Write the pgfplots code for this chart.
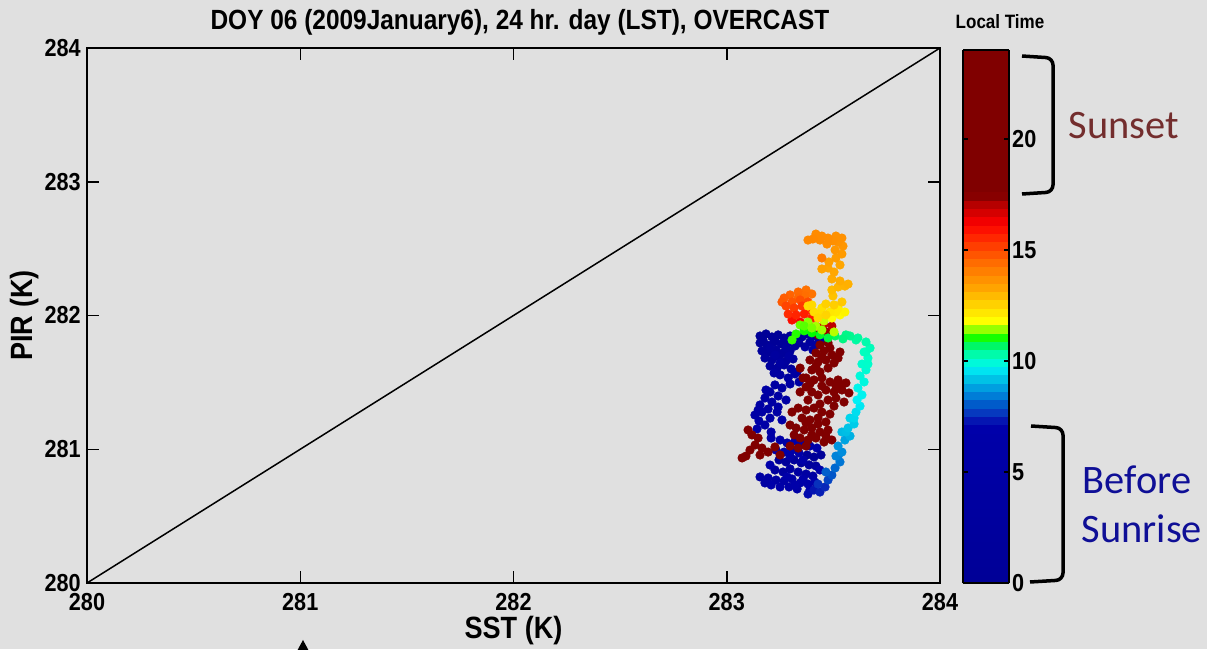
\documentclass[border=0pt]{standalone}
\usepackage{fontspec}
\setmainfont{Liberation Sans}[FakeStretch=0.88]
\newfontfamily\calibri{Carlito}
\usepackage{pgfplots}
\usepackage{pgfplotstable}
\pgfplotsset{compat=1.18}

\definecolor{bggray}{RGB}{224,224,224}
\definecolor{sunsetred}{RGB}{115,45,45}
\definecolor{sunriseblue}{RGB}{15,15,150}

% SST, PIR, local time (hours)
\pgfplotstableread{
x y t
283.156 281.847 0.1
283.184 281.862 0.2
283.212 281.840 0.3
283.241 281.855 0.4
283.269 281.832 0.5
283.297 281.847 0.6
283.325 281.825 0.7
283.353 281.840 0.8
283.156 281.795 0.9
283.189 281.780 1.0
283.222 281.802 1.1
283.255 281.787 1.2
283.288 281.795 1.3
283.320 281.772 1.4
283.165 281.735 1.5
283.198 281.727 1.6
283.231 281.742 1.7
283.264 281.720 1.8
283.297 281.735 1.9
283.179 281.682 2.0
283.212 281.667 2.1
283.245 281.690 2.2
283.278 281.660 2.3
283.311 281.675 2.4
283.203 281.622 2.5
283.236 281.607 2.6
283.269 281.630 2.7
283.302 281.600 2.8
283.330 281.578 2.9
283.372 281.862 3.0
283.399 281.847 3.1
283.428 281.832 3.2
283.390 281.802 3.3
283.418 281.780 3.4
283.446 281.810 3.5
283.367 281.765 3.6
283.404 281.742 3.7
283.250 281.556 3.8
283.288 281.533 3.9
283.320 281.563 4.0
283.339 281.503 4.1
283.226 281.481 4.2
283.259 281.458 4.3
283.203 281.428 4.4
283.241 281.398 4.5
283.179 281.383 4.6
283.212 281.353 4.7
283.278 281.368 4.8
283.156 281.331 4.9
283.194 281.301 5.0
283.241 281.316 5.1
283.132 281.256 5.2
283.165 281.278 5.3
283.203 281.233 5.4
283.236 281.278 5.5
283.259 281.219 5.6
283.151 281.212 5.7
283.142 281.152 5.8
283.208 281.129 5.9
283.208 281.084 6.0
283.250 281.069 6.1
283.283 281.047 6.2
283.320 281.062 6.3
283.353 281.039 6.4
283.390 281.024 6.5
283.423 281.009 6.6
283.231 280.994 6.7
283.269 280.979 6.8
283.306 280.994 6.9
283.339 280.972 7.0
283.377 280.957 0.3
283.409 280.942 0.6
283.442 280.957 0.9
283.245 280.920 1.2
283.278 280.905 1.5
283.316 280.920 1.8
283.349 280.898 2.1
283.386 280.883 2.4
283.418 280.875 2.7
283.226 280.845 3.0
283.264 280.830 3.3
283.297 280.853 3.6
283.335 280.830 3.9
283.372 280.815 4.2
283.404 280.800 4.5
283.194 280.785 4.8
283.231 280.770 5.1
283.269 280.763 5.4
283.306 280.778 5.7
283.344 280.748 6.0
283.381 280.740 6.3
283.413 280.755 6.6
283.208 280.733 6.9
283.250 280.718 6.2
283.292 280.718 5.8
283.330 280.703 5.3
283.179 280.748 4.7
283.156 280.793 4.1
283.170 281.817 0.4
283.226 281.825 0.8
283.283 281.817 1.1
283.339 281.795 1.6
283.203 281.757 2.2
283.278 281.757 2.6
283.226 281.705 3.1
283.292 281.697 3.5
283.250 281.645 3.9
283.222 281.570 4.3
283.297 281.488 4.6
283.184 281.443 5.0
283.147 281.293 5.4
283.179 281.181 5.7
283.297 280.949 6.0
283.358 280.920 6.3
283.437 280.845 6.5
283.283 280.793 6.7
283.358 280.778 6.8
283.320 280.733 6.9
283.203 280.882 7.0
283.390 280.695 7.05
283.306 281.966 16.00
283.344 281.951 16.20
283.381 281.936 16.40
283.418 281.921 16.60
283.456 281.936 16.80
283.493 281.921 17.00
283.465 281.877 17.30
283.428 281.855 17.50
283.437 281.780 18.0
283.475 281.795 18.1
283.418 281.720 18.2
283.456 281.735 18.3
283.493 281.705 18.4
283.531 281.727 18.5
283.390 281.667 18.6
283.428 281.652 18.7
283.465 281.667 18.8
283.503 281.645 18.9
283.399 281.593 19.0
283.437 281.578 19.1
283.372 281.533 19.2
283.409 281.518 19.3
283.446 281.533 19.4
283.484 281.503 19.5
283.522 281.518 19.6
283.559 281.496 19.7
283.465 281.443 19.8
283.503 281.428 19.9
283.540 281.443 20.0
283.573 281.421 20.1
283.428 281.406 20.2
283.475 281.368 20.3
283.512 281.383 20.4
283.550 281.353 20.5
283.344 281.428 20.6
283.372 281.466 20.7
283.344 281.607 20.8
283.358 281.533 20.9
283.335 281.308 21.0
283.372 281.293 21.1
283.409 281.308 21.2
283.446 281.278 21.3
283.353 281.233 21.4
283.390 281.219 21.5
283.428 281.233 21.6
283.465 281.204 21.7
283.325 281.159 21.8
283.363 281.144 21.9
283.399 281.159 22.0
283.437 281.129 22.1
283.475 281.144 22.2
283.344 281.084 22.3
283.381 281.069 22.4
283.418 281.084 22.5
283.456 281.054 22.6
283.493 281.069 22.7
283.297 281.024 22.8
283.335 281.009 22.9
283.306 281.278 23.0
283.297 281.181 23.1
283.316 281.107 23.2
283.090 280.949 23.3
283.109 280.994 23.4
283.133 281.032 23.5
283.147 281.084 23.6
283.165 281.009 23.7
283.194 280.979 23.8
283.226 281.017 23.85
283.250 280.957 23.9
283.118 281.107 23.95
283.100 281.144 23.99
283.484 281.757 18.05
283.446 281.690 18.25
283.522 281.682 18.45
283.418 281.622 18.65
283.475 281.607 18.85
283.390 281.488 19.15
283.540 281.480 19.35
283.446 281.473 19.55
283.512 281.473 19.75
283.399 281.428 19.95
283.381 281.368 20.15
283.437 281.338 20.35
283.503 281.323 20.55
283.484 281.263 20.75
283.372 281.196 20.95
283.428 281.189 21.15
283.399 281.107 21.35
283.465 281.099 21.55
283.372 281.024 21.75
283.156 280.957 21.95
283.072 280.935 22.15
283.381 280.665 7.20
283.409 280.695 7.30
283.437 280.680 7.40
283.461 280.718 7.50
283.428 280.740 7.60
283.475 280.770 7.80
283.493 280.807 8.00
283.465 280.830 8.10
283.508 280.860 8.20
283.531 280.905 8.35
283.522 280.949 8.45
283.512 280.949 8.50
283.540 280.979 8.60
283.522 281.024 8.70
283.554 281.069 8.85
283.578 281.099 9.00
283.540 281.129 9.10
283.559 281.129 9.15
283.569 281.159 9.20
283.597 281.189 9.30
283.578 281.233 9.40
283.597 281.233 9.45
283.606 281.278 9.50
283.625 281.323 9.60
283.611 281.368 9.70
283.399 282.161 14.30
283.372 282.191 14.35
283.367 282.146 14.40
283.335 282.176 14.50
283.335 282.131 14.55
283.297 282.154 14.60
283.269 282.131 14.70
283.259 282.101 14.75
283.306 282.101 14.80
283.344 282.116 14.90
283.381 282.101 15.00
283.278 282.071 15.10
283.316 282.056 15.20
283.353 282.071 15.30
283.390 282.041 15.40
283.288 282.011 15.50
283.325 282.004 15.60
283.363 282.011 15.70
283.399 281.981 15.80
283.498 282.146 12.80
283.493 282.191 12.90
283.522 282.213 13.00
283.554 282.220 13.05
283.569 282.235 13.10
283.531 282.258 13.15
283.493 282.273 13.20
283.503 282.325 13.25
283.531 282.378 13.28
283.475 282.355 13.30
283.446 282.348 13.35
283.479 282.400 13.40
283.512 282.430 13.45
283.540 282.460 13.50
283.508 282.490 13.55
283.545 282.519 13.60
283.522 282.549 13.65
283.512 282.594 13.69
283.540 282.579 13.70
283.498 282.557 13.72
283.470 282.534 13.75
283.475 282.579 13.78
283.446 282.594 13.80
283.437 282.564 13.81
283.418 282.609 13.82
283.404 282.572 13.85
283.381 282.564 13.88
283.446 282.430 14.10
283.344 281.929 11.30
283.381 281.951 11.40
283.418 281.921 11.50
283.456 281.959 11.60
283.493 281.981 11.80
283.531 282.004 11.90
283.554 282.026 12.00
283.522 282.056 12.10
283.512 282.026 12.15
283.484 282.026 12.20
283.446 282.056 12.30
283.428 282.011 12.32
283.409 282.026 12.35
283.381 282.071 12.40
283.399 282.079 12.42
283.428 281.981 12.45
283.465 282.004 12.50
283.465 282.086 12.55
283.503 282.079 12.60
283.540 282.101 12.70
283.634 281.406 9.75
283.615 281.458 9.80
283.644 281.503 9.90
283.625 281.548 9.95
283.653 281.593 10.00
283.634 281.637 10.05
283.662 281.637 10.07
283.662 281.682 10.10
283.644 281.727 10.15
283.653 281.727 10.17
283.672 281.757 10.20
283.653 281.802 10.30
283.606 281.817 10.35
283.615 281.832 10.40
283.578 281.847 10.50
283.559 281.855 10.55
283.545 281.825 10.60
283.508 281.847 10.70
283.475 281.832 10.80
283.437 281.855 10.90
283.399 281.870 11.00
283.363 281.885 11.05
283.325 281.862 11.10
283.306 281.817 11.15
283.363 281.921 11.25
283.399 281.907 11.35
283.446 281.892 11.45
283.503 281.877 11.55
}\scatterdata

\begin{document}
\begin{tikzpicture}
\path[fill=bggray, use as bounding box] (-17.4mm,-13.2mm) rectangle (224mm,116.6mm);

\begin{axis}[
  at={(0,0)}, anchor=south west,
  scale only axis, width=170.6mm, height=107mm,
  xmin=280, xmax=284, ymin=280, ymax=284,
  xtick={280,281,282,283,284}, ytick={280,281,282,283,284},
  /pgf/number format/assume math mode=true,
  tick label style={font=\bfseries\fontsize{14}{14}\selectfont},
  xticklabel style={yshift=-0.8mm},
  tick align=inside, major tick length=2.4mm,
  every tick/.style={black, line width=0.3mm},
  axis line style={line width=0.4mm},
  xlabel={SST (K)}, ylabel={PIR (K)},
  title={DOY 06 (2009January6), 24 hr. day (LST), OVERCAST},
  every axis x label/.style={at={(axis description cs:0.5,-0.0897)}, anchor=center, font=\bfseries\fontsize{17.5}{17.5}\selectfont},
  every axis y label/.style={at={(axis description cs:-0.0727,0.5)}, anchor=center, rotate=90, font=\bfseries\fontsize{17.5}{17.5}\selectfont},
  every axis title/.style={at={(axis description cs:0.5076,1.0486)}, anchor=center, font=\bfseries\fontsize{15.8}{15.8}\selectfont},
  colormap={localtime}{
    rgb255(0cm)=(0,0,150)
    rgb255(7.1cm)=(0,0,170)
    rgb255(7.5cm)=(10,40,185)
    rgb255(8.0cm)=(0,85,200)
    rgb255(8.6cm)=(0,140,220)
    rgb255(9.2cm)=(0,195,230)
    rgb255(9.7cm)=(0,240,245)
    rgb255(10.1cm)=(0,255,200)
    rgb255(10.6cm)=(0,245,130)
    rgb255(11.0cm)=(0,255,0)
    rgb255(11.4cm)=(140,255,0)
    rgb255(11.8cm)=(255,255,0)
    rgb255(13.2cm)=(255,170,0)
    rgb255(14.5cm)=(255,105,0)
    rgb255(15.7cm)=(255,30,0)
    rgb255(16.2cm)=(250,0,0)
    rgb255(17.0cm)=(190,0,0)
    rgb255(17.5cm)=(128,0,0)
    rgb255(24cm)=(128,0,0)
  },
  point meta min=0, point meta max=24,
  colorbar sampled,
  colorbar style={
    at={(parent axis.south east)}, anchor=south west, xshift=1.6mm,
    scale only axis, width=9.2mm, height=106.6mm,
    samples=65,
    ytick={0,5,10,15,20},
    /pgf/number format/assume math mode=true,
    yticklabel style={font=\bfseries\fontsize{14}{14}\selectfont, xshift=-0.6mm},
    major tick length=1mm,
    every tick/.style={black, line width=0.3mm},
    axis line style={line width=0.3mm},
  },
]
\addplot[black, line width=0.3mm] coordinates {(280,280) (284,284)};
\addplot[scatter, only marks, mark=*, mark size=2.4pt, scatter src=explicit,
  scatter/use mapped color={draw=mapped color, fill=mapped color}]
  table[x=x, y=y, meta=t] {\scatterdata};
\end{axis}

% annotations, in pixel units of the picture (origin top left)
\begin{scope}[shift={(-17.4mm,116.6mm)}, x=0.2mm, y=-0.2mm]
  \node[font=\bfseries\fontsize{11}{11}\selectfont] at (1000,22) {Local Time};
  \draw[line width=0.7mm, rounded corners=4] (1022,56) -- (1053,58) -- (1053,192) -- (1022,194);
  \draw[line width=0.7mm, rounded corners=4] (1031,426) -- (1063,428) -- (1063,580) -- (1030,582);
  \node[font=\calibri\fontsize{23}{23}\selectfont, text=sunsetred] at (1124,126) {Sunset};
  \node[font=\calibri\fontsize{23}{23}\selectfont, text=sunriseblue] at (1137,480) {Before};
  \node[font=\calibri\fontsize{23}{23}\selectfont, text=sunriseblue] at (1142,529) {Sunrise};
  \fill[black] (303,640) -- (310,653) -- (296,653) -- cycle;
\end{scope}
\end{tikzpicture}
\end{document}
